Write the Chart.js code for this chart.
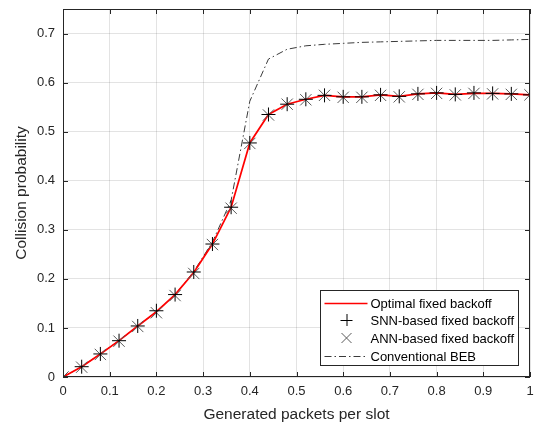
<!DOCTYPE html>
<html lang="en">
<head>
    <meta charset="UTF-8">
    <title>Collision probability</title>
    <script src="https://cdn.jsdelivr.net/npm/chart.js"></script>
    <style>
        body {
            margin: 0;
            background: #fff;
        }
        #wrap {
            width: 540px;
            height: 424px;
        }
    </style>
</head>
<body>
    <div id="wrap">
        <canvas id="collisionChart" width="540" height="424"></canvas>
    </div>

    <script>
        // generated packets per slot
        const loads = [0, 0.04, 0.08, 0.12, 0.16, 0.20, 0.24, 0.28, 0.32, 0.36, 0.40, 0.44, 0.48,
                       0.52, 0.56, 0.60, 0.64, 0.68, 0.72, 0.76, 0.80, 0.84, 0.88, 0.92, 0.96, 1.00];

        const optimalFixed = [0, 0.021, 0.047, 0.074, 0.104, 0.133, 0.168, 0.213, 0.271, 0.346, 0.477, 0.535, 0.556,
                              0.566, 0.574, 0.571, 0.571, 0.575, 0.572, 0.577, 0.579, 0.576, 0.578, 0.578, 0.577, 0.575];
        const snnFixed     = [0, 0.021, 0.047, 0.074, 0.104, 0.135, 0.168, 0.214, 0.271, 0.346, 0.477, 0.535, 0.556,
                              0.566, 0.574, 0.571, 0.571, 0.575, 0.572, 0.577, 0.579, 0.576, 0.579, 0.578, 0.577, 0.575];
        const annFixed     = [0, 0.020, 0.046, 0.073, 0.103, 0.131, 0.166, 0.211, 0.270, 0.344, 0.476, 0.534, 0.556,
                              0.565, 0.574, 0.570, 0.570, 0.574, 0.571, 0.576, 0.578, 0.575, 0.578, 0.577, 0.576, 0.575];
        const conventionalBEB = [0, 0.021, 0.047, 0.074, 0.104, 0.133, 0.168, 0.215, 0.275, 0.360, 0.562, 0.648, 0.668,
                                 0.675, 0.678, 0.680, 0.682, 0.683, 0.684, 0.685, 0.686, 0.686, 0.686, 0.686, 0.687, 0.688];

        const xTicks = [0, 0.1, 0.2, 0.3, 0.4, 0.5, 0.6, 0.7, 0.8, 0.9, 1];
        const yTicks = [0, 0.1, 0.2, 0.3, 0.4, 0.5, 0.6, 0.7];

        const FONT = "'Liberation Sans', Arial, sans-serif";
        const AXIS_COLOR = '#262626';

        function toPoints(values) {
            return loads.map((x, i) => ({ x: x, y: values[i] }));
        }

        // MATLAB style box with inward ticks on all four sides
        const framePlugin = {
            id: 'frame',
            afterDatasetsDraw(chart) {
                const ctx = chart.ctx;
                const a = chart.chartArea;
                const xs = chart.scales.x;
                const ys = chart.scales.y;
                const len = 5;
                ctx.save();
                ctx.strokeStyle = AXIS_COLOR;
                ctx.lineWidth = 1;
                ctx.beginPath();
                xs.ticks.forEach(t => {
                    const px = Math.round(xs.getPixelForValue(t.value)) + 0.5;
                    ctx.moveTo(px, a.bottom);
                    ctx.lineTo(px, a.bottom - len);
                    ctx.moveTo(px, a.top);
                    ctx.lineTo(px, a.top + len);
                });
                ys.ticks.forEach(t => {
                    const py = Math.round(ys.getPixelForValue(t.value)) + 0.5;
                    ctx.moveTo(a.left, py);
                    ctx.lineTo(a.left + len, py);
                    ctx.moveTo(a.right, py);
                    ctx.lineTo(a.right - len, py);
                });
                ctx.stroke();
                ctx.strokeRect(Math.round(a.left) + 0.5, Math.round(a.top) + 0.5,
                    Math.round(a.right - a.left) - 1, Math.round(a.bottom - a.top) - 1);
                ctx.restore();
            }
        };

        // legend box in the lower right corner of the axes
        const boxLegend = {
            id: 'boxLegend',
            afterDraw(chart) {
                const ctx = chart.ctx;
                const a = chart.chartArea;
                const w = 198, h = 75;
                const left = Math.round(a.right - 12 - w) + 0.5;
                const top = Math.round(a.bottom - 12 - h) + 0.5;
                ctx.save();
                ctx.fillStyle = '#fff';
                ctx.fillRect(left, top, w, h);
                ctx.strokeStyle = AXIS_COLOR;
                ctx.lineWidth = 1;
                ctx.strokeRect(left, top, w, h);

                ctx.font = '13px ' + FONT;
                ctx.textBaseline = 'middle';
                ctx.textAlign = 'left';
                chart.data.datasets.forEach((ds, i) => {
                    const cy = Math.round(top + 12 + i * 17.7);
                    const sx0 = left + 4, sx1 = left + 47, mx = left + 26;
                    ctx.strokeStyle = ds.borderColor;
                    ctx.lineWidth = ds.borderWidth;
                    ctx.setLineDash(ds.borderDash || []);
                    ctx.beginPath();
                    if (ds.showLine) {
                        ctx.moveTo(sx0, cy + 0.5);
                        ctx.lineTo(sx1, cy + 0.5);
                    } else if (ds.pointStyle === 'cross') {
                        ctx.moveTo(mx - 6, cy + 0.5);
                        ctx.lineTo(mx + 6, cy + 0.5);
                        ctx.moveTo(mx + 0.5, cy - 6);
                        ctx.lineTo(mx + 0.5, cy + 6);
                    } else {
                        ctx.moveTo(mx - 5, cy - 5);
                        ctx.lineTo(mx + 5, cy + 5);
                        ctx.moveTo(mx - 5, cy + 5);
                        ctx.lineTo(mx + 5, cy - 5);
                    }
                    ctx.stroke();
                    ctx.setLineDash([]);
                    ctx.fillStyle = '#000';
                    ctx.fillText(ds.label, left + 50, cy + 1);
                });
                ctx.restore();
            }
        };

        const ctx = document.getElementById('collisionChart').getContext('2d');
        const myChart = new Chart(ctx, {
            type: 'scatter',
            data: {
                datasets: [
                    {
                        label: 'Optimal fixed backoff',
                        data: toPoints(optimalFixed),
                        showLine: true,
                        borderColor: '#ff0000',
                        borderWidth: 1.7,
                        pointRadius: 0,
                        order: 3
                    },
                    {
                        label: 'SNN-based fixed backoff',
                        data: toPoints(snnFixed),
                        showLine: false,
                        pointStyle: 'cross',
                        pointRadius: 7,
                        borderColor: '#000000',
                        borderWidth: 1,
                        order: 1
                    },
                    {
                        label: 'ANN-based fixed backoff',
                        data: toPoints(annFixed),
                        showLine: false,
                        pointStyle: 'crossRot',
                        pointRadius: 8,
                        borderColor: '#5a5a5a',
                        borderWidth: 1,
                        order: 2
                    },
                    {
                        label: 'Conventional BEB',
                        data: toPoints(conventionalBEB),
                        showLine: true,
                        borderColor: '#3a3a3a',
                        borderWidth: 1,
                        borderDash: [7, 3, 1.5, 3],
                        pointRadius: 0,
                        order: 10
                    }
                ]
            },
            options: {
                responsive: false,
                animation: false,
                layout: { padding: { top: 6, right: 10, left: 0, bottom: 0 } },
                plugins: {
                    legend: { display: false },
                    tooltip: { enabled: false }
                },
                scales: {
                    x: {
                        type: 'linear',
                        min: 0,
                        max: 1,
                        afterFit(scale) {
                            scale.height = 47;
                            scale.paddingLeft = 0;
                            scale.paddingRight = 0;
                        },
                        afterBuildTicks(scale) { scale.ticks = xTicks.map(v => ({ value: v })); },
                        grid: { color: 'rgba(0,0,0,0.11)', drawTicks: false },
                        border: { display: false },
                        ticks: {
                            padding: 7,
                            color: AXIS_COLOR,
                            font: { family: FONT, size: 13 },
                            callback: v => String(v)
                        },
                        title: {
                            display: true,
                            text: 'Generated packets per slot',
                            color: AXIS_COLOR,
                            font: { family: FONT, size: 15.5 },
                            padding: { top: 2, bottom: 0 }
                        }
                    },
                    y: {
                        type: 'linear',
                        min: 0,
                        max: 0.75,
                        afterFit(scale) {
                            scale.width = 63;
                            scale.paddingTop = 0;
                            scale.paddingBottom = 0;
                        },
                        afterBuildTicks(scale) { scale.ticks = yTicks.map(v => ({ value: v })); },
                        grid: { color: 'rgba(0,0,0,0.11)', drawTicks: false },
                        border: { display: false },
                        ticks: {
                            padding: 8,
                            color: AXIS_COLOR,
                            font: { family: FONT, size: 13 },
                            callback: v => String(v)
                        },
                        title: {
                            display: true,
                            text: 'Collision probability',
                            color: AXIS_COLOR,
                            font: { family: FONT, size: 15.5 },
                            padding: { top: 12, bottom: 0 }
                        }
                    }
                }
            },
            plugins: [framePlugin, boxLegend]
        });
    </script>
</body>
</html>
